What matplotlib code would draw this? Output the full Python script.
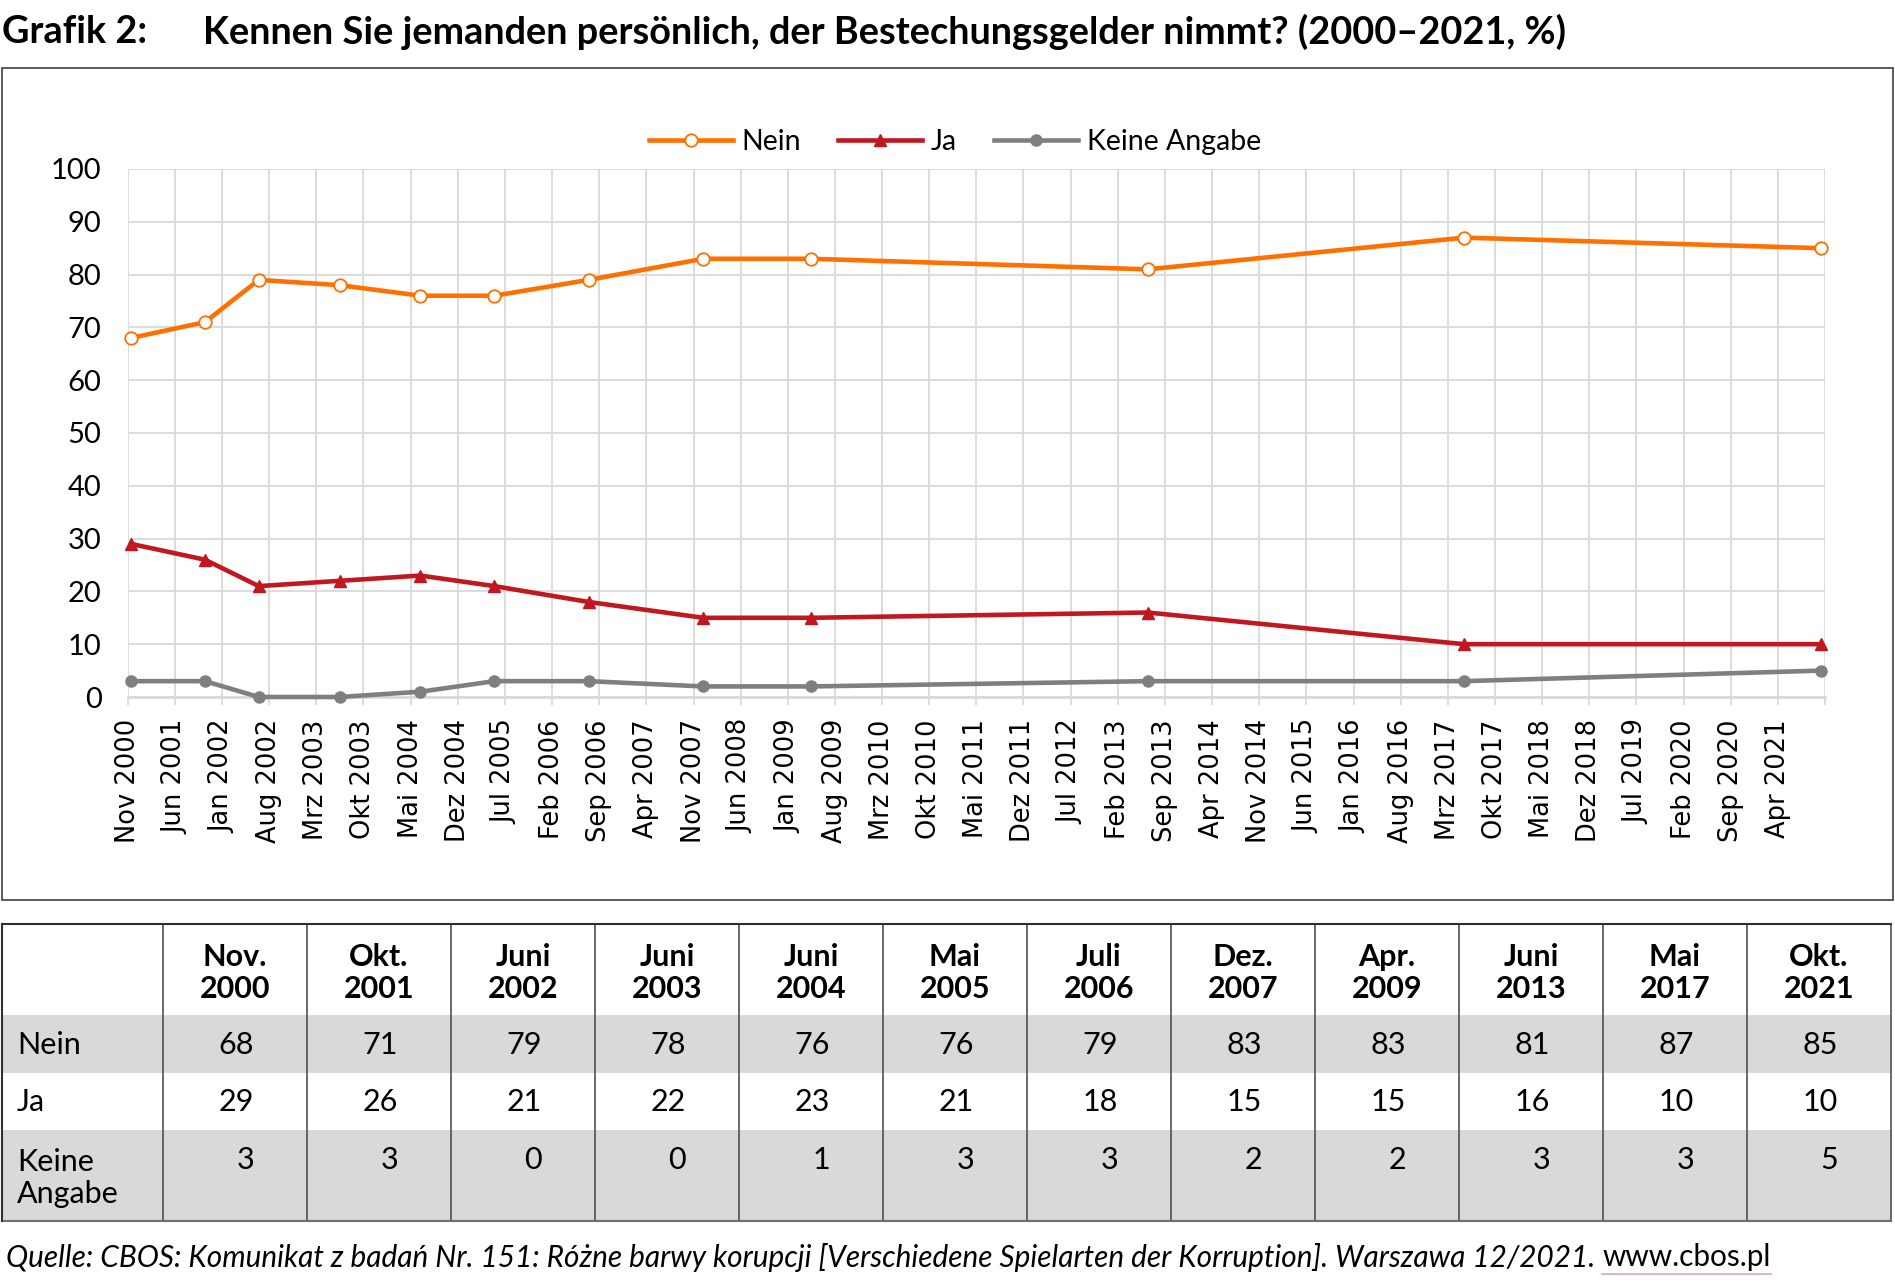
import pandas as pd
import matplotlib
matplotlib.use("Agg")
import matplotlib.pyplot as plt
from matplotlib.patches import Rectangle
from matplotlib.lines import Line2D

plt.rcParams['font.family'] = ['Lato', 'DejaVu Sans']

# -------------------------------
# DATEN
# -------------------------------
termine = ["2000-11-15", "2001-10-15", "2002-06-15", "2003-06-15", "2004-06-15", "2005-05-15",
           "2006-07-15", "2007-12-15", "2009-04-15", "2013-06-15", "2017-05-15", "2021-10-15"]
kopf = ["Nov.\n2000", "Okt.\n2001", "Juni\n2002", "Juni\n2003", "Juni\n2004", "Mai\n2005",
        "Juli\n2006", "Dez.\n2007", "Apr.\n2009", "Juni\n2013", "Mai\n2017", "Okt.\n2021"]
nein = [68, 71, 79, 78, 76, 76, 79, 83, 83, 81, 87, 85]
ja = [29, 26, 21, 22, 23, 21, 18, 15, 15, 16, 10, 10]
keine = [3, 3, 0, 0, 1, 3, 3, 2, 2, 3, 3, 5]

monate = ["Jan", "Feb", "Mrz", "Apr", "Mai", "Jun", "Jul", "Aug", "Sep", "Okt", "Nov", "Dez"]
ticks = pd.date_range("2000-11-01", "2021-11-01", freq="7MS")
tick_labels = [f"{monate[d.month - 1]} {d.year}" for d in ticks[:-1]] + [""]

W, H = 1895, 1286
fig = plt.figure(figsize=(W / 100, H / 100), dpi=100)


def fx(x):
    return x / W


def fy(y):
    return 1 - y / H


# -------------------------------
# TITEL
# -------------------------------
fig.text(fx(2), fy(32), "Grafik 2:", fontsize=27.3, fontweight="bold", va="center", ha="left")
fig.text(fx(203), fy(32), "Kennen Sie jemanden persönlich, der Bestechungsgelder nimmt? (2000–2021, %)",
         fontsize=27.3, fontweight="bold", va="center", ha="left")

# Rahmen um das Diagramm
fig.patches.append(Rectangle((fx(2), fy(900)), 1891 / W, 832 / H, transform=fig.transFigure,
                             fill=False, edgecolor="#404040", lw=1.2))

# -------------------------------
# DIAGRAMM
# -------------------------------
ax = fig.add_axes([fx(128), fy(697), (1825 - 128) / W, (697 - 169) / H])
x = pd.to_datetime(termine)

ax.plot(x, nein, color="#ff7000", lw=3.3, marker="o", ms=9, mfc="white", mec="#ff7000",
        mew=1.3, label="Nein", clip_on=False, zorder=4)
ax.plot(x, ja, color="#c0181e", lw=3.3, marker="^", ms=9, mfc="#c0181e", mec="#c0181e",
        label="Ja", clip_on=False, zorder=4)
ax.plot(x, keine, color="#7f7f7f", lw=3.3, marker="o", ms=8, mfc="#7f7f7f", mec="#7f7f7f",
        label="Keine Angabe", clip_on=False, zorder=4)

ax.set_xlim(ticks[0], ticks[-1])
ax.set_ylim(0, 100)
ax.set_yticks(range(0, 101, 10))
ax.set_xticks(ticks)
ax.set_xticklabels(tick_labels, rotation=90, family="DejaVu Sans", fontsize=18.5)
ax.tick_params(axis="y", length=0, pad=19, labelsize=21)
ax.tick_params(axis="x", length=6, width=1.3, color="#d9d9d9", pad=10)

ax.grid(True, color="#d9d9d9", lw=1.3)
ax.set_axisbelow(True)
for s in ["top", "right", "left"]:
    ax.spines[s].set_visible(False)
ax.spines["bottom"].set_color("#d9d9d9")
ax.spines["bottom"].set_linewidth(2)

fig.legend(loc="center", bbox_to_anchor=(fx(955), fy(142)), ncol=3, frameon=False,
           fontsize=20.5, handlelength=2.95, columnspacing=1.3, handletextpad=0.3)

# -------------------------------
# TABELLE
# -------------------------------
tab_links, tab_rechts = 2, 1891
erste_spalte = 163
spalte_b = (tab_rechts - erste_spalte) / len(kopf)
zeilen = [924, 1015, 1073, 1130, 1221]
zeilen_farben = ["white", "#d9d9d9", "white", "#d9d9d9"]
fs = 22

for i, farbe in enumerate(zeilen_farben):
    fig.patches.append(Rectangle((fx(tab_links), fy(zeilen[i + 1])), (tab_rechts - tab_links) / W,
                                 (zeilen[i + 1] - zeilen[i]) / H, transform=fig.transFigure,
                                 facecolor=farbe, edgecolor="none"))

for j in range(len(kopf) + 1):
    xl = erste_spalte + j * spalte_b
    fig.lines.append(Line2D([fx(xl), fx(xl)], [fy(zeilen[0]), fy(zeilen[-1])],
                            transform=fig.transFigure, color="#505050", lw=1.2))
fig.lines.append(Line2D([fx(tab_links), fx(tab_rechts)], [fy(zeilen[0]), fy(zeilen[0])],
                        transform=fig.transFigure, color="#303030", lw=1.5))
fig.lines.append(Line2D([fx(tab_links), fx(tab_rechts)], [fy(zeilen[-1]), fy(zeilen[-1])],
                        transform=fig.transFigure, color="#707070", lw=1.5))
fig.lines.append(Line2D([fx(tab_links), fx(tab_links)], [fy(zeilen[0]), fy(zeilen[-1])],
                        transform=fig.transFigure, color="#303030", lw=1.5))

for j, k in enumerate(kopf):
    xm = erste_spalte + (j + 0.5) * spalte_b
    fig.text(fx(xm), fy(973), k, ha="center", va="center", fontsize=fs, fontweight="bold",
             linespacing=1.2)
    xr = erste_spalte + (j + 1) * spalte_b - 53
    fig.text(fx(xr), fy(1045), str(nein[j]), ha="right", va="center", fontsize=fs)
    fig.text(fx(xr), fy(1102), str(ja[j]), ha="right", va="center", fontsize=fs)
    fig.text(fx(xr), fy(1160), str(keine[j]), ha="right", va="center", fontsize=fs)

fig.text(fx(17), fy(1045), "Nein", ha="left", va="center", fontsize=fs)
fig.text(fx(17), fy(1102), "Ja", ha="left", va="center", fontsize=fs)
fig.text(fx(17), fy(1178), "Keine\nAngabe", ha="left", va="center", fontsize=fs, linespacing=1.2)

# -------------------------------
# QUELLE
# -------------------------------
quelle = fig.text(fx(6), fy(1257),
                  "Quelle: CBOS: Komunikat z badań Nr. 151: Różne barwy korupcji "
                  "[Verschiedene Spielarten der Korruption]. Warszawa 12/2021. ",
                  ha="left", va="center", fontsize=21.4, style="italic")
fig.canvas.draw()
bb = quelle.get_window_extent()
link = fig.text(bb.x1 / W, fy(1257), "www.cbos.pl", ha="left", va="center", fontsize=21.4)
fig.canvas.draw()
lb = link.get_window_extent()
fig.lines.append(Line2D([lb.x0 / W, lb.x1 / W], [(lb.y0 - 3) / H, (lb.y0 - 3) / H],
                        transform=fig.transFigure, color="#e0a8a8", lw=1.2))

fig.savefig("out.png", dpi=100)
